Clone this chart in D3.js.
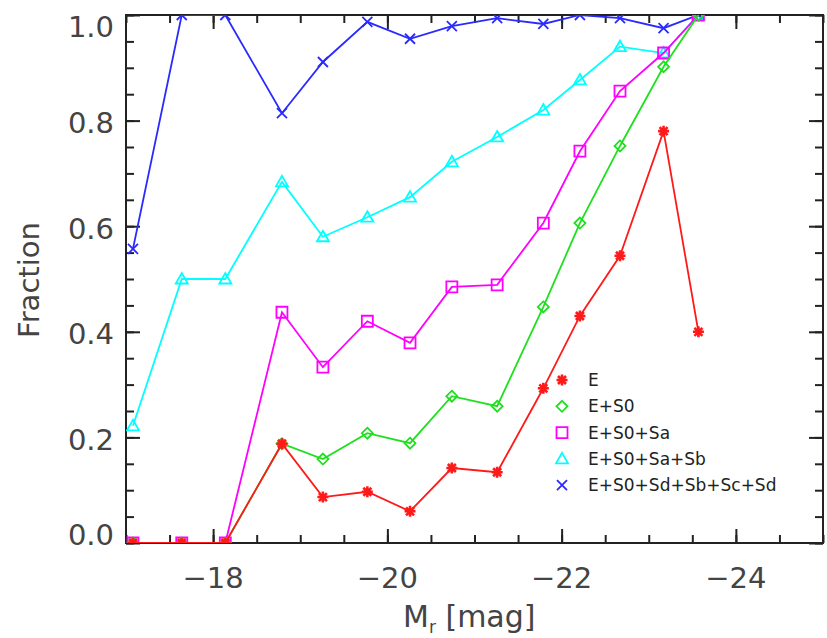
<!DOCTYPE html>
<html>
<head>
<meta charset="utf-8">
<script src="https://cdn.jsdelivr.net/npm/d3@7"></script>
<style>
  body { margin: 0; background: #fff; }
  text { font-family: "DejaVu Sans", sans-serif; fill: #444; }
</style>
</head>
<body>
<div id="chart"></div>
<script>
const W = 827, H = 638;

// absolute magnitude bins
const mags = [-17.08, -17.64, -18.14, -18.79, -19.26, -19.77, -20.26, -20.74, -21.26, -21.79, -22.21, -22.67, -23.17, -23.57];

const fracE      = [0, 0, 0, 0.188, 0.087, 0.097, 0.060, 0.142, 0.134, 0.293, 0.430, 0.544, 0.780, 0.400];
const fracES0    = [0, 0, 0, 0.188, 0.159, 0.208, 0.189, 0.278, 0.259, 0.447, 0.606, 0.752, 0.902, 1.0];
const fracES0Sa  = [0, 0, 0, 0.437, 0.333, 0.420, 0.379, 0.485, 0.489, 0.606, 0.742, 0.856, 0.928, 1.0];
const fracES0SaSb = [0.222, 0.500, 0.500, 0.684, 0.580, 0.617, 0.655, 0.722, 0.769, 0.820, 0.877, 0.940, 0.928, 1.0];
const fracAll    = [0.557, 1.0, 1.0, 0.814, 0.911, 0.987, 0.955, 0.979, 0.994, 0.983, 1.0, 0.994, 0.975, 1.0];

const seriesNames = ["E", "E+S0", "E+S0+Sa", "E+S0+Sa+Sb", "E+S0+Sd+Sb+Sc+Sd"];
const seriesColors = ["#ff1a1a", "#1ee01e", "#ff00ff", "#00ffff", "#2a2aff"];
const seriesSymbols = ["asterisk", "diamond", "square", "triangle", "cross"];
const seriesValues = [fracE, fracES0, fracES0Sa, fracES0SaSb, fracAll];

const xMajor = [-18, -20, -22, -24];
const yMajor = [0, 0.2, 0.4, 0.6, 0.8, 1.0];

const plot = { left: 126, right: 823, top: 15, bottom: 543 };

var svg = d3.select("#chart").append("svg")
    .attr("width", W)
    .attr("height", H);

var x = d3.scaleLinear().domain([-17, -25]).range([plot.left, plot.right]);
var y = d3.scaleLinear().domain([0, 1]).range([plot.bottom, plot.top]);

var xMinor = d3.range(-17, -25.01, -0.5);
var yMinor = d3.range(0, 1.001, 0.05);

svg.append("defs").append("clipPath").attr("id", "clip")
    .append("rect")
    .attr("x", plot.left).attr("y", plot.top)
    .attr("width", plot.right - plot.left)
    .attr("height", plot.bottom - plot.top);

// ticks, all four sides, pointing inward
var addTicks = function(axis, tr, len, values) {
    var g = svg.append("g")
        .attr("transform", tr)
        .call(axis.tickValues(values).tickSize(-len).tickFormat(""));
    g.select(".domain").remove();
    g.selectAll("line").attr("stroke", "#222").attr("stroke-width", 2);
    return g;
};
addTicks(d3.axisBottom(x), `translate(0,${plot.bottom})`, 8, xMinor);
addTicks(d3.axisBottom(x), `translate(0,${plot.bottom})`, 14, xMajor);
addTicks(d3.axisTop(x), `translate(0,${plot.top})`, 8, xMinor);
addTicks(d3.axisTop(x), `translate(0,${plot.top})`, 14, xMajor);
addTicks(d3.axisLeft(y), `translate(${plot.left},0)`, 8, yMinor);
addTicks(d3.axisLeft(y), `translate(${plot.left},0)`, 14, yMajor);
addTicks(d3.axisRight(y), `translate(${plot.right},0)`, 8, yMinor);
addTicks(d3.axisRight(y), `translate(${plot.right},0)`, 14, yMajor);

svg.append("rect")
    .attr("x", plot.left).attr("y", plot.top)
    .attr("width", plot.right - plot.left)
    .attr("height", plot.bottom - plot.top)
    .attr("fill", "none")
    .attr("stroke", "#222")
    .attr("stroke-width", 2);

// tick labels
svg.append("g").selectAll("text").data(xMajor)
    .enter().append("text")
    .attr("x", (d) => x(d))
    .attr("y", plot.bottom + 45)
    .attr("text-anchor", "middle")
    .attr("font-size", 29)
    .text((d) => "\u2212" + Math.abs(d));

svg.append("g").selectAll("text").data(yMajor)
    .enter().append("text")
    .attr("x", plot.left - 12)
    .attr("y", (d) => Math.max(26, Math.min(534, y(d) + 2)) + 10.5)
    .attr("text-anchor", "end")
    .attr("font-size", 29)
    .text((d) => d.toFixed(1));

// axis titles
var xt = svg.append("text")
    .attr("x", 403)
    .attr("y", 627)
    .attr("font-size", 30);
xt.append("tspan").text("M");
xt.append("tspan").attr("font-size", 17).attr("dy", 6).text("r");
xt.append("tspan").attr("dy", -6).text(" [mag]");

svg.append("text")
    .attr("transform", "translate(39,280) rotate(-90)")
    .attr("text-anchor", "middle")
    .attr("font-size", 29)
    .text("Fraction");

// symbols
var symbolPath = function(type) {
    var p = d3.path();
    if (type == "asterisk") {
        var r = 5.5, s = 4;
        p.moveTo(-r, 0); p.lineTo(r, 0);
        p.moveTo(0, -r); p.lineTo(0, r);
        p.moveTo(-s, -s); p.lineTo(s, s);
        p.moveTo(-s, s); p.lineTo(s, -s);
    } else if (type == "diamond") {
        var r = 5.5;
        p.moveTo(0, -r); p.lineTo(r, 0); p.lineTo(0, r); p.lineTo(-r, 0); p.closePath();
    } else if (type == "square") {
        var r = 5.5;
        p.rect(-r, -r, 2 * r, 2 * r);
    } else if (type == "triangle") {
        var r = 6;
        p.moveTo(0, -r); p.lineTo(r, r * 0.75); p.lineTo(-r, r * 0.75); p.closePath();
    } else {
        var r = 5;
        p.moveTo(-r, -r); p.lineTo(r, r);
        p.moveTo(-r, r); p.lineTo(r, -r);
    }
    return p.toString();
};

var line = d3.line()
    .x((d) => x(d[0]))
    .y((d) => y(d[1]));

var data = seriesNames.map((name, i) => ({
    name: name,
    color: seriesColors[i],
    symbol: seriesSymbols[i],
    points: mags.map((m, j) => [m, seriesValues[i][j]])
}));

var plotArea = svg.append("g").attr("clip-path", "url(#clip)");

// draw outer series first so E ends on top
data.slice().reverse().forEach(function(s) {
    var g = plotArea.append("g");
    g.append("path")
        .attr("d", line(s.points))
        .attr("fill", "none")
        .attr("stroke", s.color)
        .attr("stroke-width", 1.8);
    g.selectAll("path.pt").data(s.points)
        .enter().append("path")
        .attr("class", "pt")
        .attr("transform", (d) => `translate(${x(d[0])},${y(d[1])})`)
        .attr("d", symbolPath(s.symbol))
        .attr("fill", "none")
        .attr("stroke", s.color)
        .attr("stroke-width", s.symbol == "asterisk" ? 2.6 : 1.8);
});

// legend
var legend = svg.append("g").selectAll("g").data(data)
    .enter().append("g")
    .attr("transform", (d, i) => `translate(562,${380 + i * 26.3})`);
legend.append("path")
    .attr("d", (d) => symbolPath(d.symbol))
    .attr("fill", "none")
    .attr("stroke", (d) => d.color)
    .attr("stroke-width", (d) => d.symbol == "asterisk" ? 2.6 : 1.8);
legend.append("text")
    .attr("x", 26)
    .attr("y", 6)
    .attr("font-size", 17)
    .style("fill", "#222")
    .text((d) => d.name);
</script>
</body>
</html>
